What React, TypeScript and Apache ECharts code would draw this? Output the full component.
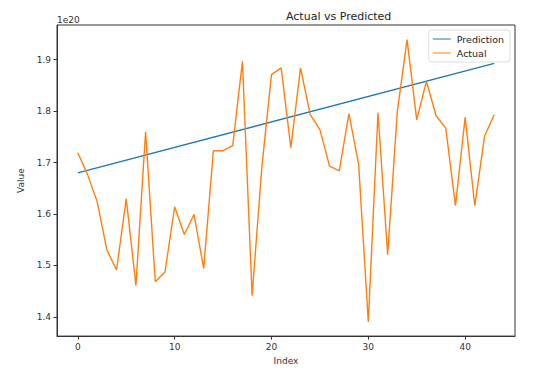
import React, { useEffect, useRef } from "react";
import * as echarts from "echarts";

const actualIndex: number[] = Array.from({ length: 44 }, (_, i) => i);
const actualValues: number[] = [
  1.719, 1.677, 1.624, 1.530, 1.491, 1.630, 1.461, 1.760, 1.468, 1.487,
  1.614, 1.560, 1.599, 1.494, 1.723, 1.723, 1.733, 1.897, 1.441, 1.690,
  1.871, 1.884, 1.729, 1.884, 1.793, 1.764, 1.693, 1.684, 1.795, 1.697,
  1.390, 1.797, 1.521, 1.800, 1.939, 1.783, 1.858, 1.791, 1.767, 1.616,
  1.788, 1.616, 1.751, 1.793,
];
const predictionIndex: number[] = [0, 43];
const predictionValues: number[] = [1.680, 1.893];
const xTicks: number[] = [0, 10, 20, 30, 40];
const yTicks: number[] = [1.4, 1.5, 1.6, 1.7, 1.8, 1.9];
const offsetLabel = "1e20";

const FONT = "DejaVu Sans";

export default function App() {
  const ref = useRef<HTMLDivElement>(null);
  useEffect(() => {
    if (!ref.current) return;
    const chart = echarts.init(ref.current, null, { renderer: "svg" });
    const axisCommon = {
      axisLine: { show: true, onZero: false, lineStyle: { color: "#333", width: 1 } },
      axisTick: { show: true, inside: false, length: 3.5, lineStyle: { color: "#333" } },
      splitLine: { show: false },
    };
    chart.setOption({
      animation: false,
      backgroundColor: "#fff",
      grid: {
        left: 57,
        right: 25,
        top: 25,
        bottom: 33,
        show: true,
        borderColor: "#333",
        borderWidth: 1,
        backgroundColor: "transparent",
        containLabel: false,
      },
      legend: {
        orient: "vertical",
        right: 30,
        top: 30,
        padding: [4, 6, 4, 4],
        itemGap: 4,
        itemWidth: 18,
        itemHeight: 8,
        backgroundColor: "rgba(255,255,255,0.8)",
        borderColor: "#ddd",
        borderWidth: 1,
        borderRadius: 3,
        textStyle: { fontFamily: FONT, fontSize: 9.5, color: "#222", padding: [0, 0, 0, 1] },
        data: [
          { name: "Prediction", icon: "path://M0,4 L18,4 L18,5 L0,5 Z" },
          { name: "Actual", icon: "path://M0,4 L18,4 L18,5 L0,5 Z" },
        ],
      },
      xAxis: {
        type: "value",
        min: -2.15,
        max: 45.15,
        ...axisCommon,
        axisTick: { ...axisCommon.axisTick, customValues: xTicks },
        axisLabel: {
          customValues: xTicks,
          fontFamily: FONT,
          fontSize: 9,
          color: "#333",
          margin: 6,
          formatter: (v: number) => String(v),
        },
        name: "Index",
        nameLocation: "middle",
        nameGap: 19,
        nameTextStyle: { fontFamily: FONT, fontSize: 9, color: "#333" },
      },
      yAxis: {
        type: "value",
        min: 1.3625,
        max: 1.9675,
        ...axisCommon,
        axisTick: { ...axisCommon.axisTick, customValues: yTicks },
        axisLabel: {
          customValues: yTicks,
          fontFamily: FONT,
          fontSize: 9,
          color: "#333",
          margin: 6,
          formatter: (v: number) => v.toFixed(1),
        },
        name: "Value",
        nameLocation: "middle",
        nameGap: 27,
        nameTextStyle: { fontFamily: FONT, fontSize: 9, color: "#333" },
      },
      graphic: [
        {
          type: "text",
          left: 286,
          top: 11,
          style: {
            text: "Actual vs Predicted",
            fontFamily: FONT,
            fontSize: 11,
            fill: "#222",
            textAlign: "center",
          },
        },
        {
          type: "text",
          left: 57,
          top: 15,
          style: { text: offsetLabel, fontFamily: FONT, fontSize: 9, fill: "#333" },
        },
      ],
      series: [
        {
          name: "Prediction",
          type: "line",
          data: predictionIndex.map((x, i) => [x, predictionValues[i]]),
          symbol: "none",
          lineStyle: { color: "#1f77b4", width: 1.4 },
          itemStyle: { color: "#1f77b4" },
        },
        {
          name: "Actual",
          type: "line",
          data: actualIndex.map((x, i) => [x, actualValues[i]]),
          symbol: "none",
          lineStyle: { color: "#ff7f0e", width: 1.4 },
          itemStyle: { color: "#ff7f0e" },
        },
      ],
    });
    return () => chart.dispose();
  }, []);
  return (
    <div
      ref={ref}
      style={{ position: "fixed", left: 0, top: 0, width: 540, height: 370 }}
    />
  );
}
